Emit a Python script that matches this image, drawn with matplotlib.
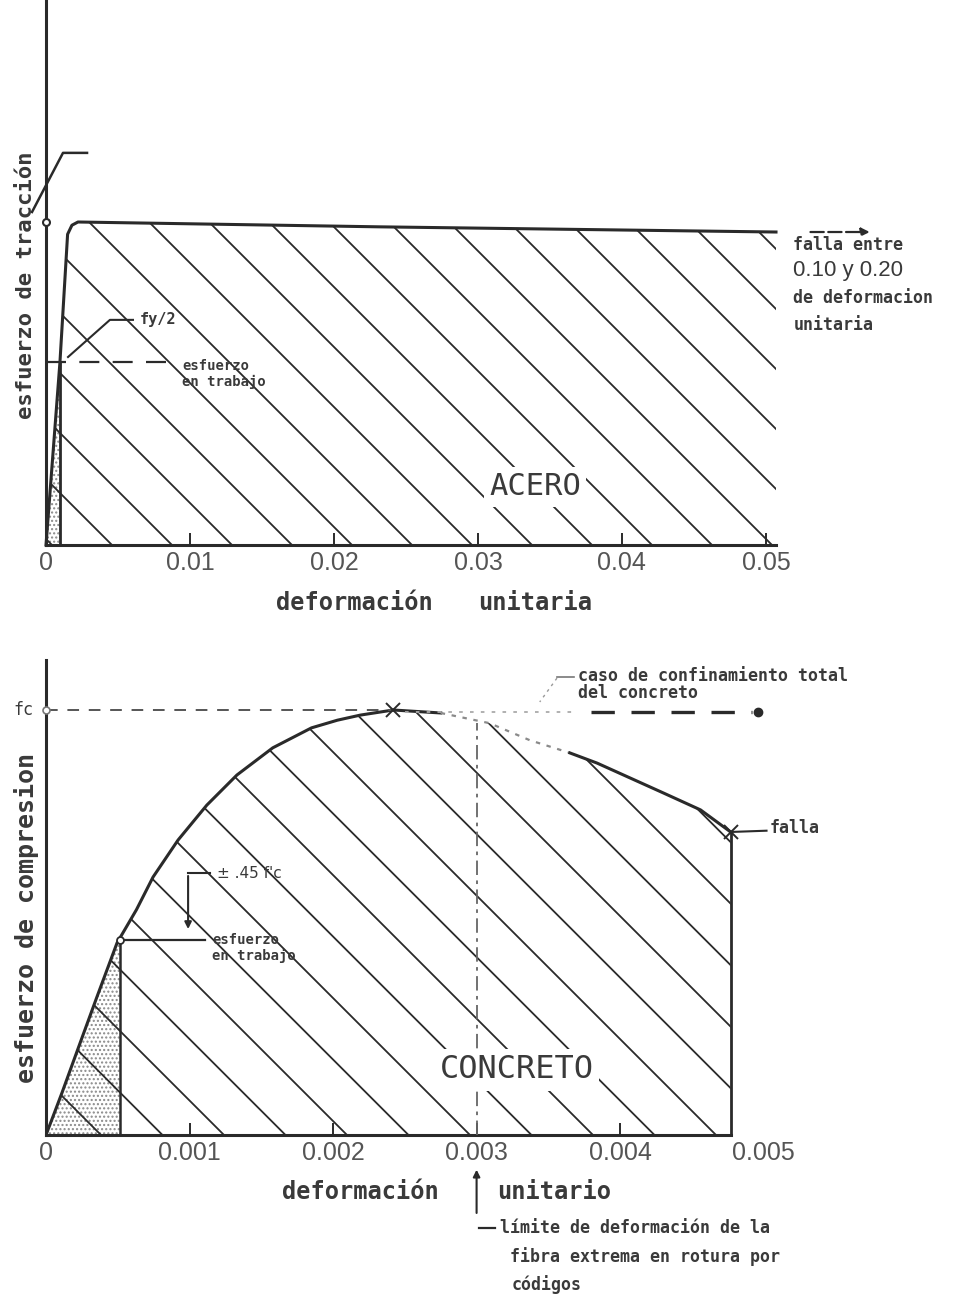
import numpy as np
import matplotlib.pyplot as plt
from matplotlib.patches import Polygon
from matplotlib.lines import Line2D
from matplotlib.transforms import IdentityTransform

# steel (acero): unit strain vs stress / fy
steel_strain = [0.0, 0.00097, 0.00150, 0.00180, 0.00222, 0.0232, 0.0507]
steel_stress = [0.0, 0.567, 0.962, 0.990, 1.0, 0.985, 0.969]
steel_work = (0.00097, 0.567)
steel_ticks = [0, 0.01, 0.02, 0.03, 0.04, 0.05]
steel_ticklabels = ['0', '0.01', '0.02', '0.03', '0.04', '0.05']

# concrete (concreto): unit strain vs stress / f'c
conc_strain = [0.0, 0.000111, 0.000237, 0.000355, 0.000495, 0.00063, 0.000746, 0.00092,
               0.00112, 0.00133, 0.00158, 0.00185, 0.00203, 0.00219, 0.00242, 0.00275,
               0.00309, 0.00337, 0.00365, 0.00384, 0.00430, 0.00456, 0.00477]
conc_stress = [0.0, 0.099, 0.216, 0.325, 0.452, 0.53, 0.607, 0.694,
               0.776, 0.847, 0.911, 0.958, 0.976, 0.988, 1.0, 0.993,
               0.969, 0.929, 0.899, 0.875, 0.805, 0.765, 0.713]
conc_work = (0.000516, 0.459)
conc_peak = (0.00242, 1.0)
conc_fail = (0.00477, 0.713)
conc_limit = 0.003
conc_ticks = [0, 0.001, 0.002, 0.003, 0.004, 0.005]
conc_ticklabels = ['0', '0.001', '0.002', '0.003', '0.004', '0.005']

INK = '#2a2a2a'
TXT = '#3a3a3a'
MONO = 'DejaVu Sans Mono'
TICKFONT = 'Liberation Sans'

W, H = 954, 1296
fig = plt.figure(figsize=(W / 100, H / 100), dpi=100)
fig.patch.set_facecolor('white')


def px_axes(left, right, top, bottom):
    # axes rectangle given in image pixels (y from top)
    return fig.add_axes([left / W, 1 - bottom / H, (right - left) / W, (bottom - top) / H])


def hatch_clip(ax, verts, spacing, phase, lw=1.3):
    # draw "\" diagonal lines every `spacing` pixels, clipped to the polygon
    patch = Polygon(verts, closed=True, facecolor='none', edgecolor='none',
                    transform=ax.transData)
    ax.add_patch(patch)
    pts = ax.transData.transform(np.asarray(verts))
    xmin, ymin = pts.min(axis=0)
    xmax, ymax = pts.max(axis=0)
    k0 = np.floor((xmin + ymin - phase) / spacing)
    k1 = np.ceil((xmax + ymax - phase) / spacing)
    for k in np.arange(k0, k1 + 1):
        c = phase + spacing * k
        ln = Line2D([c - ymax - 5, c - ymin + 5], [ymax + 5, ymin - 5],
                    transform=IdentityTransform(), color=INK, lw=lw, zorder=2)
        ln.set_clip_path(patch)
        ax.add_artist(ln)


def style_axes(ax):
    for s in ['top', 'right']:
        ax.spines[s].set_visible(False)
    for s in ['left', 'bottom']:
        ax.spines[s].set_linewidth(2.2)
        ax.spines[s].set_color(INK)
    ax.tick_params(axis='y', left=False, labelleft=False)
    ax.tick_params(axis='x', direction='in', length=9, width=1.4, color=INK,
                   labelcolor='#555555', pad=4)
    ax.set_facecolor('none')


# ---------------- ACERO ----------------
ax1 = px_axes(46, 776, 0, 545)
ax1.set_xlim(0, 0.0507)
ax1.set_ylim(0, 545 / 323)
style_axes(ax1)
ax1.set_xticks(steel_ticks)
ax1.set_xticklabels(steel_ticklabels, family=TICKFONT, fontsize=18)

steel_poly = list(zip(steel_strain, steel_stress)) + [(steel_strain[-1], 0), (0, 0)]
hatch_clip(ax1, steel_poly, 60, 23)
ax1.add_patch(Polygon([(0, 0), steel_work, (steel_work[0], 0)], closed=True,
                      facecolor='none', edgecolor='#8a8a8a', hatch='....', lw=0, zorder=1))
ax1.plot(steel_strain, steel_stress, color=INK, lw=2.2, zorder=3, clip_on=False)
ax1.plot([steel_work[0]] * 2, [0, steel_work[1]], color=INK, lw=2, zorder=3)
ax1.plot([0, 0.0090], [steel_work[1]] * 2, color=INK, lw=1.6, dashes=(9, 6), zorder=3)
ax1.plot([0], [1.0], marker='o', ms=5, mfc='white', mec=INK, mew=1.5, clip_on=False, zorder=4)
ax1.plot([0.00285, 0.00118, -0.00097], [1.214, 1.214, 1.031], color=INK, lw=1.8, clip_on=False)
ax1.plot([0.00153, 0.00444, 0.00604], [0.582, 0.697, 0.697], color=INK, lw=1.5)

ax1.text(0.0065, 0.697, 'fy/2', family=MONO, weight='bold', fontsize=11, color=TXT, va='center')
ax1.text(0.00944, 0.554, 'esfuerzo', family=MONO, weight='bold', fontsize=10, color=TXT, va='center')
ax1.text(0.00944, 0.505, 'en trabajo', family=MONO, weight='bold', fontsize=10, color=TXT, va='center')
ax1.annotate('', xy=(0.0574, 0.969), xytext=(0.0529, 0.969), annotation_clip=False,
             arrowprops=dict(arrowstyle='-|>', color=INK, lw=1.6, ls=(0, (6, 2)),
                             mutation_scale=12))
right_notes = [('falla entre', 0.929), ('de deformacion', 0.765), ('unitaria', 0.681)]
for s, y in right_notes:
    ax1.text(0.0519, y, s, family=MONO, weight='bold', fontsize=12, color=TXT, va='center')
ax1.text(0.0519, 0.851, '0.10 y 0.20', family=TICKFONT, fontsize=16, color=TXT, va='center')
ax1.text(0.03396, 0.1796, 'ACERO', family=MONO, fontsize=22, color=TXT, ha='center', va='center',
         zorder=5, bbox=dict(facecolor='white', edgecolor='none', pad=4))
ax1.text(0.02139, -0.18, 'deformación', family=MONO, weight='bold', fontsize=17, color=TXT,
         ha='center', va='center')
ax1.text(0.03396, -0.18, 'unitaria', family=MONO, weight='bold', fontsize=17, color=TXT,
         ha='center', va='center')
ax1.text(-0.00139, 0.805, 'esfuerzo de tracción', family=MONO, weight='bold', fontsize=16,
         color=TXT, rotation=90, ha='center', va='center')

# ---------------- CONCRETO ----------------
ax2 = px_axes(46, 778, 660, 1135)
ax2.set_xlim(0, 0.0051)
ax2.set_ylim(0, 475 / 425)
style_axes(ax2)
ax2.spines['bottom'].set_bounds(0, conc_fail[0])
ax2.set_xticks(conc_ticks)
ax2.set_xticklabels(conc_ticklabels, family=TICKFONT, fontsize=18)
ax2.xaxis.get_major_ticks()[-1].tick1line.set_visible(False)

cs = np.array(conc_strain)
cy = np.array(conc_stress)
conc_poly = list(zip(cs, cy)) + [(conc_fail[0], 0), (0, 0)]
hatch_clip(ax2, conc_poly, 61.5, 16)

left = cs <= conc_work[0]
stip = list(zip(cs[left], cy[left])) + [conc_work, (conc_work[0], 0)]
ax2.add_patch(Polygon(stip, closed=True, facecolor='none', edgecolor='#8a8a8a',
                      hatch='....', lw=0, zorder=1))

solid_a = cs <= 0.00275
dotted = (cs >= 0.00275) & (cs <= 0.00365)
solid_b = cs >= 0.00365
ax2.plot(cs[solid_a], cy[solid_a], color=INK, lw=2.2, zorder=3)
ax2.plot(cs[dotted], cy[dotted], color='#8a8a8a', lw=1.6, ls=(0, (2, 3)), zorder=3)
ax2.plot(cs[solid_b], cy[solid_b], color=INK, lw=2.2, zorder=3)
ax2.plot([conc_fail[0]] * 2, [0, conc_fail[1]], color=INK, lw=2, zorder=3)
ax2.plot([conc_work[0]] * 2, [0, conc_work[1]], color=INK, lw=1.8, zorder=3)
ax2.plot([conc_work[0], 0.00111], [conc_work[1]] * 2, color=INK, lw=1.6, zorder=3)
ax2.plot(*conc_work, marker='o', ms=5, mfc='white', mec=INK, mew=1.3, zorder=4)
ax2.plot(*conc_peak, marker='x', ms=10, mec=INK, mew=1.4, zorder=4)
ax2.plot(*conc_fail, marker='x', ms=10, mec=INK, mew=1.4, zorder=4, clip_on=False)
ax2.plot([0], [1.0], marker='o', ms=5, mfc='white', mec='#777777', mew=1.2, clip_on=False, zorder=4)

# f'c reference lines
ax2.plot([0, conc_peak[0]], [1.0, 1.0], color='#555555', lw=1.4, ls=(0, (6, 5)), zorder=3)
ax2.plot([0.00250, 0.00370], [0.995, 0.995], color='#aaaaaa', lw=1.3, ls=(0, (2, 4)), zorder=3)
ax2.plot([0.00380, 0.00492], [0.995, 0.995], color=INK, lw=2.4, ls=(0, (7, 5)), clip_on=False, zorder=3)
ax2.plot([0.00496], [0.995], marker='o', ms=6, color=INK, clip_on=False, zorder=3)
ax2.plot([conc_limit] * 2, [0, 0.969], color='#666666', lw=1.3, ls=(0, (8, 3, 2, 3)), zorder=3)

# labels and leaders
ax2.text(-0.00016, 1.0, 'fc', family=MONO, fontsize=12, color=TXT, ha='center', va='center')
ax2.plot([0.00356, 0.00344], [1.075, 1.019], color='#999999', lw=1, ls=(0, (2, 3)))
ax2.plot([0.00356, 0.00368], [1.078, 1.078], color='#777777', lw=1.2)
ax2.text(0.003707, 1.08, 'caso de confinamiento total', family=MONO, weight='bold',
         fontsize=12, color=TXT, va='center')
ax2.text(0.003707, 1.04, 'del concreto', family=MONO, weight='bold', fontsize=12,
         color=TXT, va='center')
ax2.annotate('', xy=(0.00099, 0.478), xytext=(0.00099, 0.616),
             arrowprops=dict(arrowstyle='-|>', color=INK, lw=1.5, mutation_scale=10))
ax2.plot([0.00099, 0.00114], [0.616, 0.616], color=INK, lw=1.5)
ax2.text(0.00119, 0.616, "± .45 f'c", fontsize=11, color=TXT, va='center')
ax2.text(0.001157, 0.459, 'esfuerzo', family=MONO, weight='bold', fontsize=10, color=TXT, va='center')
ax2.text(0.001157, 0.421, 'en trabajo', family=MONO, weight='bold', fontsize=10, color=TXT, va='center')
ax2.plot([conc_fail[0], 0.00502], [conc_fail[1], 0.716], color=INK, lw=1.5, clip_on=False)
ax2.text(0.005045, 0.722, 'falla', family=MONO, weight='bold', fontsize=12, color=TXT, va='center')
ax2.text(0.003282, 0.153, 'CONCRETO', family=MONO, fontsize=23, color=TXT, ha='center',
         va='center', zorder=5, bbox=dict(facecolor='white', edgecolor='none', pad=4))

ax2.text(0.002188, -0.134, 'deformación', family=MONO, weight='bold', fontsize=17, color=TXT,
         ha='center', va='center')
ax2.text(0.003143, -0.134, 'unitario', family=MONO, weight='bold', fontsize=17, color=TXT,
         va='center')
ax2.annotate('', xy=(conc_limit, -0.075), xytext=(conc_limit, -0.19), annotation_clip=False,
             arrowprops=dict(arrowstyle='-|>', color=INK, lw=1.5, mutation_scale=10))
ax2.plot([0.00302, 0.00313], [-0.219, -0.219], color=INK, lw=1.6, clip_on=False)
ax2.text(0.003164, -0.219, 'límite de deformación de la', family=MONO, weight='bold',
         fontsize=12, color=TXT, va='center')
ax2.text(0.003233, -0.285, 'fibra extrema en rotura por', family=MONO, weight='bold',
         fontsize=12, color=TXT, va='center')
ax2.text(0.003247, -0.351, 'códigos', family=MONO, weight='bold', fontsize=12, color=TXT,
         va='center')
ax2.text(-0.000139, 0.511, 'esfuerzo de compresion', family=MONO, weight='bold', fontsize=18,
         color=TXT, rotation=90, ha='center', va='center')

fig.savefig('out.png', dpi=100, facecolor='white')
